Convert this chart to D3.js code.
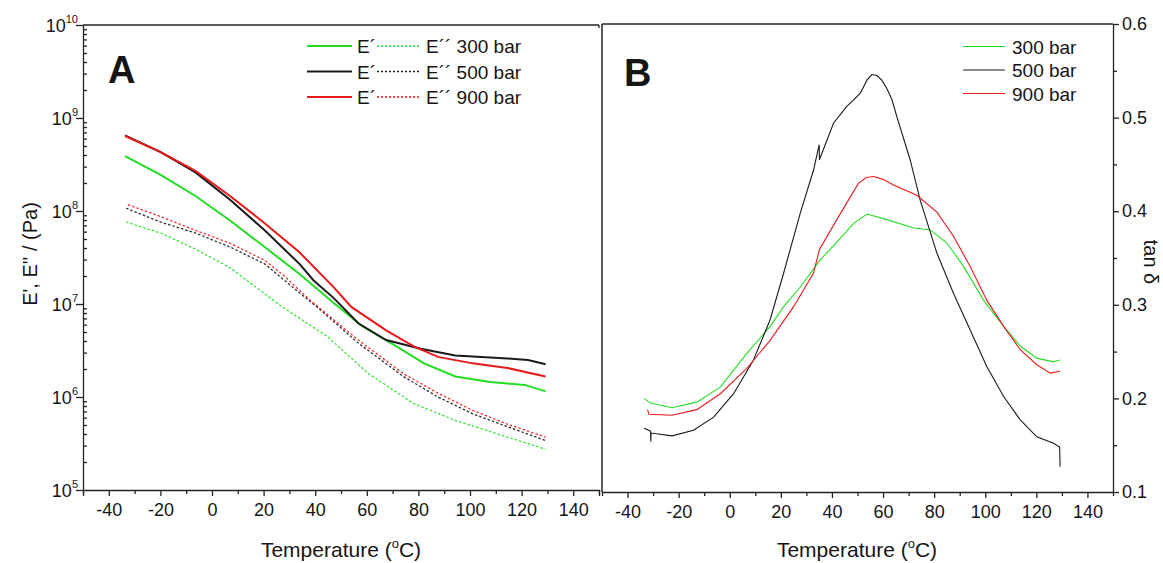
<!DOCTYPE html>
<html><head><meta charset="utf-8">
<script src="https://cdn.jsdelivr.net/npm/d3@7"></script>
<style>
body{margin:0;background:#fff}
svg{display:block}
text{font-family:"Liberation Sans",Arial,sans-serif;fill:#151515}
</style>
</head><body>
<svg id="chart" width="1163" height="563"></svg>
<script>
// ---------- Panel A data: [temperature °C, modulus Pa] ----------
const ePrime300 = [[-33.7,3.9e8],[-19.9,2.45e8],[-6.4,1.45e8],[7.0,7.9e7],[20.4,4.1e7],[33.9,2.1e7],[47.3,1.02e7],[58.1,5.8e6],[71.5,3.5e6],[82.2,2.3e6],[94.3,1.66e6],[107.8,1.45e6],[121.2,1.35e6],[129.3,1.15e6]];
const ePrime500 = [[-33.7,6.5e8],[-19.9,4.3e8],[-6.4,2.6e8],[7.0,1.32e8],[20.4,6.2e7],[33.9,2.7e7],[39.3,1.8e7],[47.3,1.15e7],[56.7,6.2e6],[67.5,4.1e6],[80.9,3.3e6],[94.3,2.8e6],[114.5,2.6e6],[122.5,2.5e6],[129.3,2.25e6]];
const ePrime900 = [[-33.7,6.4e8],[-19.9,4.3e8],[-6.4,2.7e8],[7.0,1.45e8],[20.4,7.4e7],[33.9,3.6e7],[47.3,1.5e7],[54.0,9.3e6],[67.5,5.2e6],[78.2,3.5e6],[87.6,2.7e6],[101.0,2.3e6],[114.5,2.05e6],[129.3,1.66e6]];
const eDouble300 = [[-33.3,7.6e7],[-19.9,5.8e7],[-6.4,3.9e7],[7.0,2.45e7],[20.4,1.29e7],[27.2,9.3e6],[44.6,4.5e6],[60.7,1.78e6],[78.2,8.5e5],[94.3,5.6e5],[114.5,3.7e5],[129.3,2.75e5]];
const eDouble500 = [[-33.3,1.07e8],[-19.9,7.6e7],[-6.4,5.8e7],[7.0,4.1e7],[20.4,2.7e7],[33.9,1.32e7],[41.9,8.7e6],[56.7,3.8e6],[74.2,1.66e6],[87.6,1.0e6],[101.0,6.6e5],[114.5,4.8e5],[129.3,3.4e5]];
const eDouble900 = [[-32.6,1.17e8],[-19.9,8.7e7],[-6.4,6.2e7],[7.0,4.5e7],[20.4,2.95e7],[28.0,2.0e7],[38.0,1.1e7],[45.0,7.6e6],[56.7,4.1e6],[74.2,1.78e6],[87.6,1.1e6],[101.0,7.2e5],[114.5,5.1e5],[129.3,3.7e5]];

// ---------- Panel B data: [temperature °C, tan δ] ----------
const tan300 = [[-33.5,0.200],[-31.1,0.195],[-22.6,0.190],[-12.9,0.196],[-3.7,0.212],[6.7,0.248],[15.8,0.277],[21.1,0.298],[27.6,0.319],[35.4,0.348],[41.9,0.367],[48.5,0.387],[53.7,0.397],[61.5,0.391],[72.0,0.382],[78.5,0.380],[85.0,0.366],[91.5,0.341],[99.3,0.305],[107.2,0.277],[113.7,0.256],[120.2,0.243],[126.7,0.239],[129.1,0.241]];
const tan500 = [[-33.5,0.168],[-31.0,0.165],[-30.9,0.154],[-30.8,0.163],[-22.6,0.160],[-14.2,0.166],[-6.3,0.180],[1.5,0.205],[9.3,0.241],[15.8,0.284],[21.1,0.334],[27.6,0.398],[32.8,0.444],[35.0,0.471],[35.1,0.455],[40.6,0.494],[45.8,0.512],[48.5,0.519],[51.1,0.526],[53.7,0.540],[55.6,0.546],[57.6,0.545],[59.5,0.540],[61.5,0.531],[63.5,0.519],[65.4,0.501],[70.6,0.455],[74.5,0.412],[81.1,0.355],[87.6,0.312],[94.1,0.273],[100.6,0.234],[107.2,0.202],[113.7,0.177],[120.2,0.159],[126.7,0.152],[129.1,0.148],[129.3,0.127]];
const tan900 = [[-32.2,0.188],[-31.6,0.183],[-22.6,0.182],[-12.9,0.188],[-3.7,0.205],[6.7,0.232],[15.8,0.262],[25.0,0.298],[32.8,0.334],[35.1,0.359],[41.9,0.391],[50.4,0.430],[53.5,0.436],[56.3,0.437],[60.0,0.434],[64.1,0.428],[73.2,0.417],[81.1,0.399],[87.6,0.373],[94.1,0.341],[100.6,0.305],[107.2,0.277],[113.7,0.252],[120.2,0.236],[125.4,0.227],[129.3,0.229]];

const tempTicks = [-40,-20,0,20,40,60,80,100,120,140];
const tempMinor = [-50,-30,-10,10,30,50,70,90,110,130,150];
const decadeTicks = [1e5,1e6,1e7,1e8,1e9,1e10];
const tanTicks = [0.1,0.2,0.3,0.4,0.5,0.6];
const tanMinor = [0.15,0.25,0.35,0.45,0.55];
const pressures = ["300 bar","500 bar","900 bar"];
const colors = ["#22dd22","#1a1a1a","#e8191b"];

const svg = d3.select("#chart");
const axisColor = "#222";
const FONT = '"Liberation Sans",Arial,sans-serif';

const xA = d3.scaleLinear([-50,150],[83,599]);
const yA = d3.scaleLog([1e5,1e10],[490,25]);
const xB = d3.scaleLinear([-50,150],[602,1113]);
const yB = d3.scaleLinear([0.1,0.6],[492,24]);

function styleAxis(g){
  g.selectAll("path,line").attr("stroke",axisColor).attr("stroke-width",1.3);
  g.selectAll("text").style("font-family",FONT).style("font-size","18px").attr("fill","#151515");
}

// ---- frame lines ----
svg.append("line").attr("x1",83).attr("x2",599).attr("y1",25).attr("y2",25).attr("stroke",axisColor).attr("stroke-width",1.5);
svg.append("line").attr("x1",599).attr("x2",599).attr("y1",25).attr("y2",28).attr("stroke",axisColor).attr("stroke-width",1.3);
svg.append("line").attr("x1",602).attr("x2",1113).attr("y1",24).attr("y2",24).attr("stroke",axisColor).attr("stroke-width",1.5);
svg.append("line").attr("x1",602).attr("x2",602).attr("y1",24).attr("y2",492).attr("stroke",axisColor).attr("stroke-width",1.5);

const intFmt = d => String(d);

// ---- Panel A axes ----
const gAx = svg.append("g").attr("transform","translate(0,490)")
  .call(d3.axisBottom(xA).tickValues(tempTicks).tickSizeOuter(0).tickSize(6).tickPadding(7).tickFormat(intFmt));
styleAxis(gAx);
const gAxm = svg.append("g").attr("transform","translate(0,490)")
  .call(d3.axisBottom(xA).tickValues(tempMinor).tickSize(4).tickSizeOuter(0).tickFormat(""));
styleAxis(gAxm); gAxm.select("path").remove();

const gAy = svg.append("g").attr("transform","translate(83,0)")
  .call(d3.axisLeft(yA).tickValues(decadeTicks).tickSize(7).tickSizeOuter(0).tickFormat(""));
styleAxis(gAy);
const minorDec = [];
decadeTicks.slice(0,-1).forEach(d=>{for(let k=2;k<10;k++) minorDec.push(d*k);});
const gAym = svg.append("g").attr("transform","translate(83,0)")
  .call(d3.axisLeft(yA).tickValues(minorDec).tickSize(-4).tickSizeOuter(0).tickFormat(""));
styleAxis(gAym); gAym.select("path").remove();
// decade labels with superscripts
decadeTicks.forEach(d=>{
  const e = Math.round(Math.log10(d));
  const t = svg.append("text").attr("x",78).attr("y",yA(d)+7).attr("text-anchor","end").style("font-size","18px");
  t.append("tspan").text("10");
  t.append("tspan").attr("dy",-9).style("font-size","11px").text(e);
});

// ---- Panel B axes ----
const gBx = svg.append("g").attr("transform","translate(0,492)")
  .call(d3.axisBottom(xB).tickValues(tempTicks).tickSize(6).tickSizeOuter(0).tickPadding(7).tickFormat(intFmt));
styleAxis(gBx);
const gBxm = svg.append("g").attr("transform","translate(0,492)")
  .call(d3.axisBottom(xB).tickValues(tempMinor).tickSize(4).tickSizeOuter(0).tickFormat(""));
styleAxis(gBxm); gBxm.select("path").remove();
const gBy = svg.append("g").attr("transform","translate(1113,0)")
  .call(d3.axisRight(yB).tickValues(tanTicks).tickSize(6).tickSizeOuter(0).tickPadding(3).tickFormat(d3.format(".1f")));
styleAxis(gBy);
const gBym = svg.append("g").attr("transform","translate(1113,0)")
  .call(d3.axisRight(yB).tickValues(tanMinor).tickSize(4).tickSizeOuter(0).tickFormat(""));
styleAxis(gBym); gBym.select("path").remove();

// ---- axis titles ----
function tempTitle(cx){
  const t = svg.append("text").attr("x",cx).attr("y",557).attr("text-anchor","middle").style("font-size","21px");
  t.append("tspan").text("Temperature (");
  t.append("tspan").attr("dy",-9).style("font-size","13px").text("o");
  t.append("tspan").attr("dy",9).text("C)");
}
tempTitle(341);
tempTitle(857);
svg.append("text").attr("transform","translate(37,254) rotate(-90)").attr("text-anchor","middle").style("font-size","20px").text("E', E'' / (Pa)");
svg.append("text").attr("transform","translate(1144,262) rotate(90)").attr("text-anchor","middle").style("font-size","20px").text("tan δ");

// panel letters
svg.append("text").attr("x",108).attr("y",83).style("font-size","38px").style("font-weight","bold").text("A");
svg.append("text").attr("x",624).attr("y",86).style("font-size","38px").style("font-weight","bold").text("B");

// ---- Panel A lines ----
const lineA = d3.line().x(d=>xA(d[0])).y(d=>yA(d[1]));
const solids = [ePrime300,ePrime500,ePrime900];
const dotted = [eDouble300,eDouble500,eDouble900];
dotted.forEach((s,i)=>{
  svg.append("path").datum(s).attr("d",lineA).attr("fill","none").attr("stroke",colors[i]).attr("stroke-width",1.3).attr("stroke-dasharray","2.5,2").attr("opacity",0.9);
});
solids.forEach((s,i)=>{
  svg.append("path").datum(s).attr("d",lineA).attr("fill","none").attr("stroke",colors[i]).attr("stroke-width",2);
});

// ---- Panel A legend ----
pressures.forEach((p,i)=>{
  const y = 46 + i*25.5;
  svg.append("line").attr("x1",307).attr("x2",352).attr("y1",y).attr("y2",y).attr("stroke",colors[i]).attr("stroke-width",2);
  svg.append("text").attr("x",357).attr("y",y+7).style("font-size","19px").text("E\u00B4");
  svg.append("line").attr("x1",377).attr("x2",420).attr("y1",y).attr("y2",y).attr("stroke",colors[i]).attr("stroke-width",1.3).attr("stroke-dasharray","2,2");
  svg.append("text").attr("x",426).attr("y",y+7).style("font-size","19px").text("E\u00B4\u00B4 " + p);
});

// ---- Panel B lines ----
const lineB = d3.line().x(d=>xB(d[0])).y(d=>yB(d[1]));
[tan300,tan500,tan900].forEach((s,i)=>{
  svg.append("path").datum(s).attr("d",lineB).attr("fill","none").attr("stroke",colors[i]).attr("stroke-width",1.1);
});
pressures.forEach((p,i)=>{
  const y = 46.5 + i*23.5;
  svg.append("line").attr("x1",963).attr("x2",1005).attr("y1",y).attr("y2",y).attr("stroke",colors[i]).attr("stroke-width",1.1);
  svg.append("text").attr("x",1012).attr("y",y+7).style("font-size","19px").text(p);
});
</script>
</body></html>
